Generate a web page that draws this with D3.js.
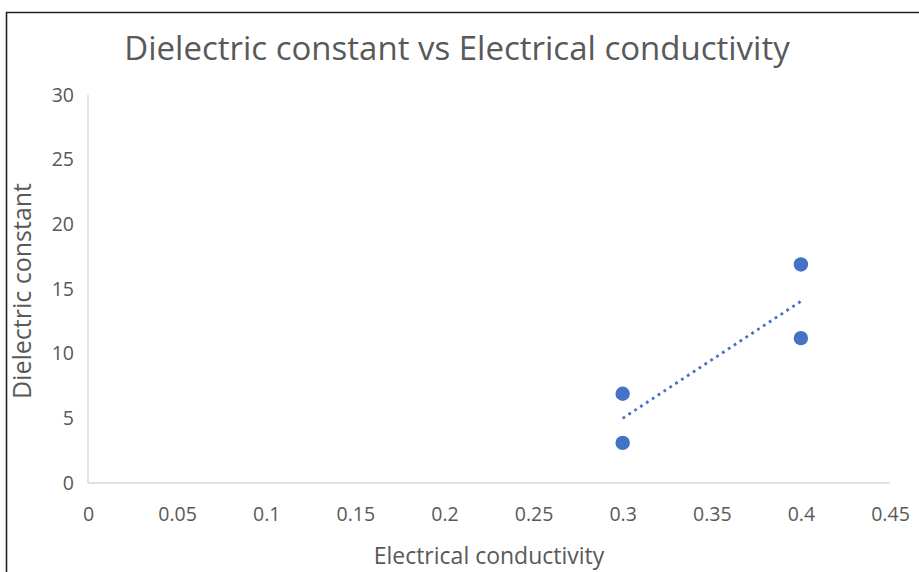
<!DOCTYPE html>
<html><head><meta charset="utf-8">
<script src="https://cdn.jsdelivr.net/npm/d3@7"></script>
<style>
html,body{margin:0;padding:0;background:#fff;}
svg{display:block;}
text{font-family:"Open Sans",sans-serif;}
</style></head>
<body>
<svg id="c" width="919" height="572"></svg>
<script>
const conductivity = [0.3, 0.3, 0.4, 0.4];
const dielectric = [6.9, 3.1, 16.9, 11.2];
const xTicks = [0, 0.05, 0.1, 0.15, 0.2, 0.25, 0.3, 0.35, 0.4, 0.45];
const yTicks = [0, 5, 10, 15, 20, 25, 30];
const title = "Dielectric constant vs Electrical conductivity";
const xTitle = "Electrical conductivity";
const yTitle = "Dielectric constant";

const svg = d3.select("#c");
svg.append("rect").attr("x",0).attr("y",0).attr("width",919).attr("height",572).attr("fill","#fff");
svg.append("path").attr("d","M6.5,572 L6.5,12.5 L919,12.5").attr("fill","none").attr("stroke","#222").attr("stroke-width",1.6);

const x = d3.scaleLinear().domain([0,0.45]).range([88,890]);
const y = d3.scaleLinear().domain([0,30]).range([483,95]);

const axisCol = "#d9d9d9", textCol = "#595959";

svg.append("line").attr("x1",x(0)).attr("x2",x(0.45)).attr("y1",y(0)).attr("y2",y(0)).attr("stroke",axisCol).attr("stroke-width",1.5);
svg.append("line").attr("x1",x(0)).attr("x2",x(0)).attr("y1",y(0)).attr("y2",y(30)).attr("stroke",axisCol).attr("stroke-width",1.5);

const xa = svg.append("g").attr("transform",`translate(0,${y(0)})`)
  .call(d3.axisBottom(x).tickValues(xTicks).tickSize(0).tickPadding(24).tickFormat(d=>String(+d.toFixed(2))));
const ya = svg.append("g").attr("transform",`translate(${x(0)},0)`)
  .call(d3.axisLeft(y).tickValues(yTicks).tickSize(0).tickPadding(14));
[xa,ya].forEach(a=>{a.select(".domain").remove();a.selectAll("text").attr("fill",textCol).attr("font-size",19.5).style("font-family",'"Open Sans",sans-serif');});

svg.append("text").attr("x",457).attr("y",60).attr("text-anchor","middle").attr("fill",textCol).attr("font-size",33).text(title);
svg.append("text").attr("x",489).attr("y",564).attr("text-anchor","middle").attr("fill",textCol).attr("font-size",23).text(xTitle);
svg.append("text").attr("transform","translate(31,291) rotate(-90)").attr("text-anchor","middle").attr("fill",textCol).attr("font-size",25).text(yTitle);

const n = conductivity.length;
const mx = d3.mean(conductivity), my = d3.mean(dielectric);
let sxy=0,sxx=0;
for(let i=0;i<n;i++){sxy+=(conductivity[i]-mx)*(dielectric[i]-my);sxx+=(conductivity[i]-mx)**2;}
const slope = sxy/sxx, icpt = my - slope*mx;
const x0 = d3.min(conductivity), x1 = d3.max(conductivity);
svg.append("line").attr("x1",x(x0)).attr("y1",y(icpt+slope*x0)).attr("x2",x(x1)).attr("y2",y(icpt+slope*x1))
  .attr("stroke","#4472C4").attr("stroke-width",2.8).attr("stroke-dasharray","2.8 4.2");

svg.append("g").selectAll("circle").data(conductivity.map((c,i)=>[c,dielectric[i]])).join("circle")
  .attr("cx",d=>x(d[0])).attr("cy",d=>y(d[1])).attr("r",7.2).attr("fill","#4472C4");
</script>
</body></html>
